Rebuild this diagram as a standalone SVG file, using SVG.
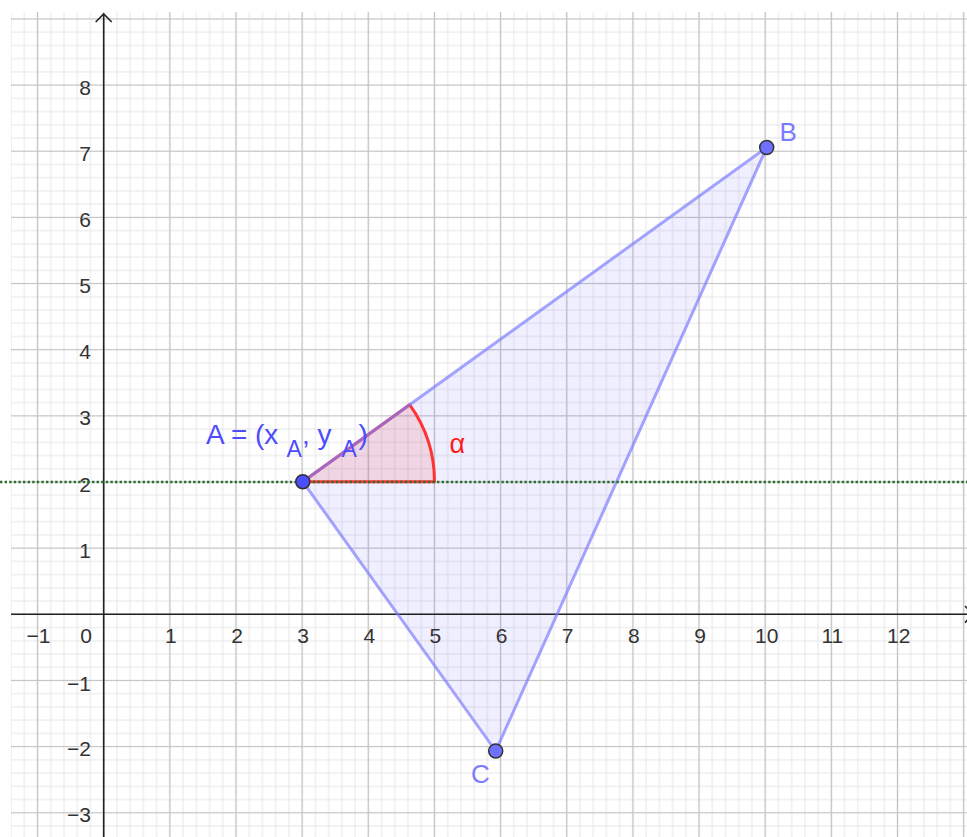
<svg xmlns="http://www.w3.org/2000/svg" width="967" height="837" viewBox="0 0 967 837">
<defs>
<pattern id="minor" patternUnits="userSpaceOnUse" x="97.085" y="607.685" width="13.23" height="13.23">
<path d="M0 6.615H13.23M6.615 0V13.23" stroke="#e6e6e6" stroke-width="1" fill="none"/>
</pattern>
<pattern id="major" patternUnits="userSpaceOnUse" x="70.625" y="581.225" width="66.15" height="66.15">
<path d="M0 33.075H66.15M33.075 0V66.15" stroke="#c4c4c4" stroke-width="1.2" fill="none"/>
</pattern>
<style>
.tick{font-family:"Liberation Sans",Arial,sans-serif;font-size:21px;fill:#333}
.tx{text-anchor:middle}
.ty{text-anchor:end}
.axis{stroke:#222;stroke-width:1.6;fill:none}
.pt{stroke:#333;stroke-width:1.5}
.lbl{font-family:"Liberation Sans",Arial,sans-serif}
</style>
</defs>
<rect width="967" height="837" fill="#fff"/>
<g id="grid">
<rect x="11" y="12" width="956" height="825" fill="url(#minor)"/>
<rect x="11" y="12" width="956" height="825" fill="url(#major)"/>
</g>
<g id="triangle-fill">
<polygon points="302.8,481.7 766.7,147.5 495.7,751" fill="#6666ff" fill-opacity="0.1"/>
</g>
<g id="axes">
<line class="axis" x1="11" y1="614.3" x2="967" y2="614.3"/>
<line class="axis" x1="103.7" y1="14" x2="103.7" y2="837"/>
<polyline class="axis" points="95.7,22 103.7,14 111.7,22"/>
<polyline class="axis" points="965,606 973,614.3 965,622.6"/>
</g>
<g id="ticks">
<text class="tick tx" x="38.5" y="643">−1</text>
<text class="tick tx" x="86" y="643">0</text>
<text class="tick tx" x="170.8" y="643">1</text>
<text class="tick tx" x="237" y="643">2</text>
<text class="tick tx" x="303.1" y="643">3</text>
<text class="tick tx" x="369.3" y="643">4</text>
<text class="tick tx" x="435.4" y="643">5</text>
<text class="tick tx" x="501.6" y="643">6</text>
<text class="tick tx" x="567.7" y="643">7</text>
<text class="tick tx" x="633.9" y="643">8</text>
<text class="tick tx" x="700" y="643">9</text>
<text class="tick tx" x="766.7" y="643">10</text>
<text class="tick tx" x="832.4" y="643">11</text>
<text class="tick tx" x="898.8" y="643">12</text>
<text class="tick ty" x="91" y="94.6">8</text>
<text class="tick ty" x="91" y="160.8">7</text>
<text class="tick ty" x="91" y="226.9">6</text>
<text class="tick ty" x="91" y="293">5</text>
<text class="tick ty" x="91" y="359.2">4</text>
<text class="tick ty" x="91" y="425.4">3</text>
<text class="tick ty" x="91" y="491.5">2</text>
<text class="tick ty" x="91" y="557.7">1</text>
<text class="tick ty" x="91" y="690.5">−1</text>
<text class="tick ty" x="91" y="756.1">−2</text>
<text class="tick ty" x="91" y="822.3">−3</text>
</g>
<g id="angle-alpha">
<path d="M302.8 481.7L434.5 481.7A131.7 131.7 0 0 0 409.6 404.7Z" fill="#ff0000" fill-opacity="0.1" stroke="#ff3333" stroke-width="3" stroke-linejoin="round"/>
</g>
<g id="triangle-edges">
<polygon points="302.8,481.7 766.7,147.5 495.7,751" fill="none" stroke="#7f7fff" stroke-opacity="0.7" stroke-width="3" stroke-linejoin="round"/>
</g>
<g id="line-y2">
<line x1="0" y1="482" x2="967" y2="482" stroke="#2f6e2f" stroke-width="2.6" stroke-dasharray="2.4 2.2"/>
</g>
<g id="point-A">
<circle class="pt" cx="302.8" cy="481.7" r="7" fill="#4d4dff"/>
<text class="lbl" font-size="28" fill="#4d4dff"><tspan x="206" y="443.5">A = (x</tspan><tspan x="286.5" y="456.5" font-size="23">A</tspan><tspan x="302" y="443.5">, y</tspan><tspan x="341.5" y="456.5" font-size="23">A</tspan><tspan x="358.5" y="443.5">)</tspan></text>
</g>
<g id="point-B">
<circle class="pt" cx="766.7" cy="147.5" r="7" fill="#7070ff"/>
<text class="lbl" x="779.5" y="141" font-size="26" fill="#7b7bff">B</text>
</g>
<g id="point-C">
<circle class="pt" cx="495.7" cy="751" r="7" fill="#7070ff"/>
<text class="lbl" x="471" y="782.5" font-size="26" fill="#7b7bff">C</text>
</g>
<g id="label-alpha">
<text class="lbl" x="449.5" y="453.3" font-size="27" fill="#ff1a1a">α</text>
</g>
</svg>
